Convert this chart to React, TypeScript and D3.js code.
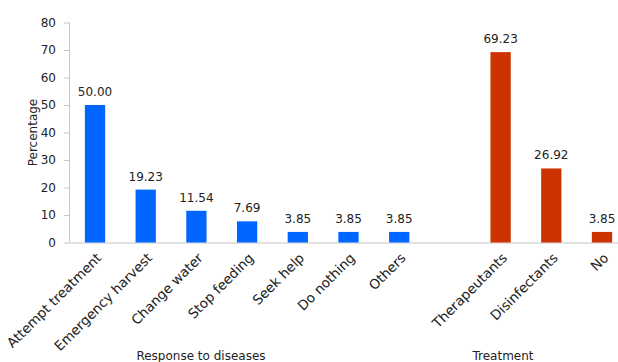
import React from "react";
import * as d3 from "d3";

// Category labels in display order; a blank slot separates the two groups.
const responseCategories = ["Attempt treatment", "Emergency harvest", "Change water", "Stop feeding", "Seek help", "Do nothing", "Others"];
const responseValues = [50.0, 19.23, 11.54, 7.69, 3.85, 3.85, 3.85];
const treatmentCategories = ["Therapeutants", "Disinfectants", "No"];
const treatmentValues = [69.23, 26.92, 3.85];
const yTicks = [0, 10, 20, 30, 40, 50, 60, 70, 80];
const groupTitles = ["Response to diseases", "Treatment"];

const W = 618;
const H = 362;
const FONT = "Verdana, 'DejaVu Sans', sans-serif";
const BLUE = "#0066ff";
const RED = "#cc3300";
const AXIS = "#c4c4c4";
const TEXT = "#222";

export default function App() {
  const spacer = " ";
  const domain = [...responseCategories, spacer, ...treatmentCategories];
  const x = d3.scaleBand<string>().domain(domain).range([69.65, 627.35]).paddingInner(0.6).paddingOuter(0.3);
  const y = d3.scaleLinear().domain([0, 80]).range([242.5, 22.5]);

  const bars = [
    ...responseCategories.map((c, i) => ({ c, v: responseValues[i], color: BLUE })),
    ...treatmentCategories.map((c, i) => ({ c, v: treatmentValues[i], color: RED })),
  ];
  const cx = (c: string) => (x(c) as number) + x.bandwidth() / 2;

  return (
    <svg width={W} height={H} style={{ position: "absolute", left: 0, top: 0, background: "#fff" }} fontFamily={FONT}>
      {/* y axis */}
      <line x1={69.5} x2={69.5} y1={y(80)} y2={y(0)} stroke={AXIS} />
      {yTicks.map((t) => (
        <g key={t} transform={`translate(0,${y(t)})`}>
          <line x1={64} x2={69.5} y1={0.5} y2={0.5} stroke={AXIS} />
          <text x={56} dy="0.35em" textAnchor="end" fontSize={12} fill={TEXT}>{t}</text>
        </g>
      ))}
      <text transform={`translate(37,${(y(0) + y(80)) / 2}) rotate(-90)`} textAnchor="middle" fontSize={12} fill={TEXT}>Percentage</text>

      {/* x axis */}
      <line x1={69.5} x2={W} y1={y(0) + 0.5} y2={y(0) + 0.5} stroke={AXIS} />

      {bars.map((b) => (
        <g key={b.c}>
          <rect x={x(b.c)} y={y(b.v)} width={x.bandwidth()} height={y(0) - y(b.v)} fill={b.color} />
          <text x={cx(b.c)} y={y(b.v) - 9} textAnchor="middle" fontSize={12} fill={TEXT}>{b.v.toFixed(2)}</text>
          <text transform={`translate(${cx(b.c) + 4},${y(0) + 13}) rotate(-45)`} textAnchor="end" dy="0.35em" fontSize={13.5} fill={TEXT}>{b.c}</text>
        </g>
      ))}

      <text x={201} y={360} textAnchor="middle" fontSize={12} fill={TEXT}>{groupTitles[0]}</text>
      <text x={503} y={360} textAnchor="middle" fontSize={12} fill={TEXT}>{groupTitles[1]}</text>
    </svg>
  );
}
